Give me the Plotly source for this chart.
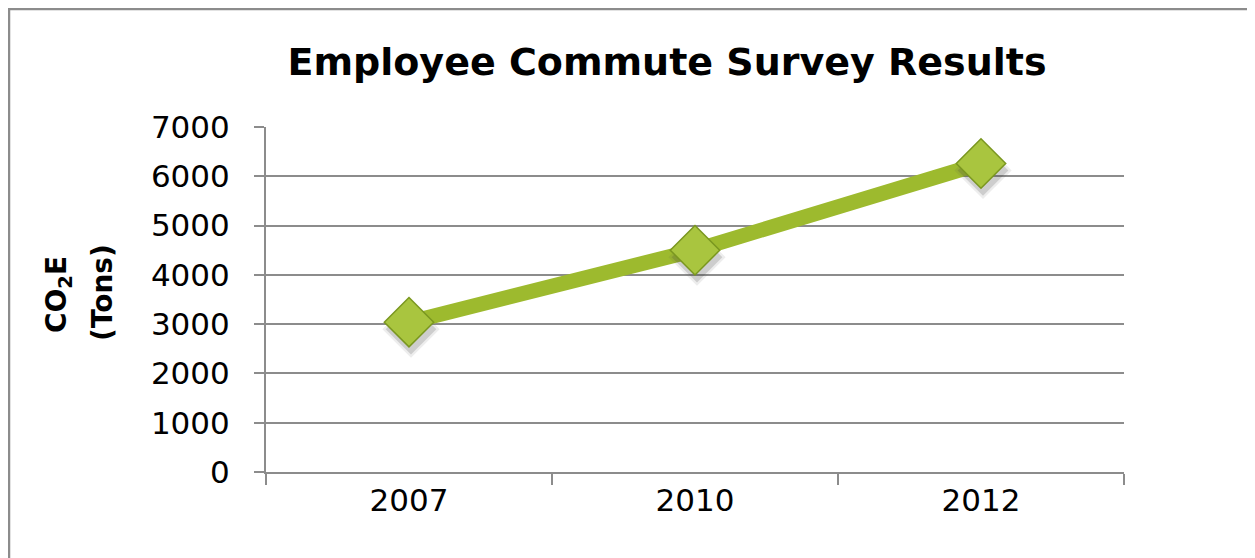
import plotly.graph_objects as go

years = ["2007", "2010", "2012"]
co2e_tons = [3040, 4500, 6260]
y_ticks = [0, 1000, 2000, 3000, 4000, 5000, 6000, 7000]

W, H = 1247, 550
L, R, T, B = 258, 131, 119, 86
pw, ph = W - L - R, H - T - B

fig = go.Figure()

# line on the main axes
fig.add_trace(go.Scatter(
    x=years, y=co2e_tons, mode="lines",
    line=dict(color="#9DBA2E", width=15),
    showlegend=False))

# soft shadow traces on an overlay axis whose range is shifted a few pixels
for sz, col in [(44, "rgba(80,80,80,0.10)"), (39, "rgba(60,60,60,0.18)")]:
    fig.add_trace(go.Scatter(
        x=years, y=co2e_tons, mode="markers", xaxis="x2", yaxis="y2",
        marker=dict(symbol="diamond", size=sz, color=col, line=dict(width=0)),
        hoverinfo="skip", showlegend=False))

# markers on an unshifted overlay above the shadows
fig.add_trace(go.Scatter(
    x=years, y=co2e_tons, mode="markers", xaxis="x3", yaxis="y3",
    marker=dict(symbol="diamond", size=38, color="#A9C53F",
                line=dict(color="#7A971F", width=1.5)),
    showlegend=False))

sx = 2 * 3 / pw          # category units for ~2px
sy = 7 * 7000 / ph       # data units for ~7px
fig.update_layout(
    width=W, height=H,
    margin=dict(l=L, r=R, t=T, b=B),
    paper_bgcolor="white", plot_bgcolor="white",
    font=dict(family="DejaVu Sans", color="black"),
    title=dict(text="<b>Employee Commute Survey Results</b>",
               font=dict(size=38, family="DejaVu Sans", color="black"),
               x=659 / W, xref="container", xanchor="center",
               y=1 - 54 / H, yref="container", yanchor="middle"),
    xaxis=dict(type="category", range=[-0.5, 2.5], tickson="boundaries",
               ticks="outside", ticklen=11, tickwidth=2, tickcolor="#8C8C8C",
               showline=True, linecolor="#8C8C8C", linewidth=2,
               showgrid=False, zeroline=False,
               tickfont=dict(size=31, family="DejaVu Sans")),
    yaxis=dict(range=[0, 7000], tickvals=y_ticks, ticks="outside", ticklen=10,
               tickwidth=2, tickcolor="#8C8C8C",
               showline=True, linecolor="#8C8C8C", linewidth=2,
               showgrid=True, gridcolor="#8C8C8C", gridwidth=2,
               zeroline=False, ticklabelstandoff=18,
               tickfont=dict(size=31, family="DejaVu Sans")),
    xaxis2=dict(type="category", range=[-0.5 - sx, 2.5 - sx], overlaying="x",
                visible=False, anchor="y2"),
    yaxis2=dict(range=[0 + sy, 7000 + sy], overlaying="y",
                visible=False, anchor="x2"),
    xaxis3=dict(type="category", range=[-0.5, 2.5], overlaying="x",
                visible=False, anchor="y3"),
    yaxis3=dict(range=[0, 7000], overlaying="y",
                visible=False, anchor="x3"),
    annotations=[
        dict(text="<b>CO<sub>2</sub>E</b>", textangle=-90,
             xref="paper", yref="paper", x=(50 - L) / pw, y=(H - B - 287) / ph,
             xanchor="center", yanchor="middle", showarrow=False,
             font=dict(size=28, family="DejaVu Sans", color="black")),
        dict(text="<b>(Tons)</b>", textangle=-90,
             xref="paper", yref="paper", x=(94 - L) / pw, y=(H - B - 285) / ph,
             xanchor="center", yanchor="middle", showarrow=False,
             font=dict(size=28, family="DejaVu Sans", color="black")),
    ],
    shapes=[dict(type="rect", xref="paper", yref="paper",
                 x0=(1 - L) / pw, x1=(W + 20 - L) / pw,
                 y0=-(B + 20) / ph, y1=(H - B - 1) / ph,
                 line=dict(color="#8C8C8C", width=2.5), layer="below")],
)

fig.write_html("out.html")
